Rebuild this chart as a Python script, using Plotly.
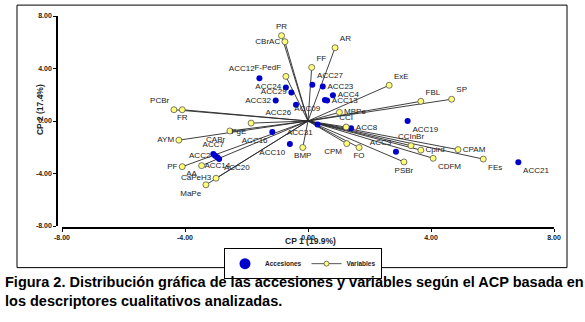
import plotly.graph_objects as go

# ---------------- data ----------------
var_names = ["PR", "CBrAC", "AR", "FF", "F-PedF", "MBPe", "PCBr", "FR", "ExE", "FBL", "SP",
             "CCI", "CCInBr", "Cpird", "CPAM", "CDFM", "FEs", "PSBr", "CPM", "FO", "BMP",
             "PgE", "CABr", "AYM", "PF", "AA", "CaPeH3", "MaPe"]
var_x = [-0.86, -0.75, 0.88, 0.12, -0.72, 1.02, -4.36, -4.09, 2.64, 3.67, 4.67,
         1.24, 3.35, 3.67, 4.88, 4.07, 5.70, 3.12, 1.26, 1.66, -0.17,
         -1.85, -2.54, -4.20, -4.09, -3.46, -2.99, -3.32]
var_y = [6.50, 6.04, 5.58, 4.08, 3.40, 0.66, 0.86, 0.86, 2.72, 1.50, 1.66,
         -0.46, -1.88, -2.22, -2.18, -2.84, -2.90, -3.12, -1.72, -2.02, -2.02,
         -0.16, -0.76, -1.46, -3.48, -3.40, -4.36, -4.86]

acc_names = ["ACC12", "ACC24", "ACC29", "ACC32", "ACC26", "ACC27", "ACC23", "ACC4", "ACC09",
             "ACC13", "ACC19", "ACC8", "ACC31", "ACC3", "ACC21", "ACC10", "ACC16", "ACC7",
             "ACC2", "ACC14", "ACC20"]
acc_x = [-1.58, -0.72, -0.54, -1.05, -0.39, 0.14, 0.48, 0.81, 0.55,
         0.62, 3.24, 1.40, 0.31, 2.86, 6.84, -0.59, -1.16, -3.08,
         -3.02, -2.95, -2.89]
acc_y = [3.26, 2.56, 2.18, 1.56, 1.24, 2.76, 2.62, 1.96, 1.60,
         1.56, 0.00, -0.56, -0.26, -2.34, -3.14, -1.76, -0.84, -2.52,
         -2.64, -2.76, -2.90]

tick_vals = [-8, -4, 0, 4, 8]
tick_text = ["-8.00", "-4.00", "0.00", "4.00", "8.00"]

# label placement (style only)
var_pos = ["top center", "middle left", "top right", "top right", "top left", "middle right",
           "top left", "bottom center", "top right", "top right", "top right",
           "top center", "top center", "middle right", "middle right", "bottom right",
           "bottom right", "bottom center", "bottom left", "bottom center", "bottom center",
           "bottom left", "bottom left", "middle left", "middle left", "bottom left",
           "middle left", "bottom left"]
acc_pos = ["top left", "middle left", "middle left", "middle left", "bottom left", "top right",
           "middle right", "middle right", "bottom left", "middle right", "bottom right",
           "middle right", "bottom left", "top left", "bottom right", "bottom left",
           "bottom left", "top center", "middle left", "bottom center", "bottom right"]

FONT = "Liberation Sans, Arial, sans-serif"

fig = go.Figure()

# vectors from origin
lx, ly = [], []
for vx, vy in zip(var_x, var_y):
    lx += [0, vx, None]
    ly += [0, vy, None]
fig.add_trace(go.Scatter(x=lx, y=ly, mode="lines", line=dict(color="#2a2a2a", width=0.9),
                         showlegend=False, hoverinfo="skip"))

# accessions
fig.add_trace(go.Scatter(x=acc_x, y=acc_y, mode="markers+text", text=acc_names,
                         textposition=acc_pos,
                         textfont=dict(family=FONT, size=8, color="#222222"),
                         marker=dict(color="#0000CC", size=6), showlegend=False))

# variables
fig.add_trace(go.Scatter(x=var_x, y=var_y, mode="markers+text", text=var_names,
                         textposition=var_pos,
                         textfont=dict(family=FONT, size=8, color="#222222"),
                         marker=dict(color="#FFFF77", size=6, line=dict(color="#555555", width=0.8)),
                         showlegend=False))

# legend-only entries
fig.add_trace(go.Scatter(x=[None], y=[None], mode="markers", name="Accesiones",
                         marker=dict(color="#0000CC", size=11)))
fig.add_trace(go.Scatter(x=[None], y=[None], mode="lines+markers", name="Variables",
                         line=dict(color="#555555", width=1),
                         marker=dict(color="#FFFF77", size=5, line=dict(color="#555555", width=0.8))))

W, H = 585, 322
L, R, T, B = 57, 31, 14, 94
pw, ph = W - L - R, H - T - B

def px(xp):
    return (xp - L) / pw

def py(yp):
    return (H - B - yp) / ph

axis_common = dict(range=[-8, 8], tickvals=tick_vals, ticktext=tick_text, showgrid=False,
                   zeroline=False, showline=True, linecolor="black", linewidth=1.5,
                   ticks="outside", ticklen=3, tickwidth=1, tickcolor="black",
                   tickfont=dict(family=FONT, size=7, color="#222222", weight="bold"),
                   anchor="free", position=0)

fig.update_layout(
    width=W, height=H,
    margin=dict(l=L, r=R, t=T, b=B, pad=0),
    paper_bgcolor="white", plot_bgcolor="white",
    xaxis=dict(domain=[px(62), 1], **axis_common),
    yaxis=dict(domain=[py(226), 1], **axis_common),
    showlegend=True,
    legend=dict(orientation="h", x=px(303), xanchor="center", y=py(264), yanchor="middle",
                bordercolor="black", borderwidth=1, bgcolor="white",
                font=dict(family=FONT, size=6.5, color="#222222", weight="bold"),
                itemwidth=30, tracegroupgap=0),
    shapes=[dict(type="rect", xref="paper", yref="paper",
                 x0=px(17), x1=px(567), y0=py(268), y1=py(3),
                 line=dict(color="black", width=1))],
    annotations=[
        dict(text="CP 1 (19.9%)", xref="paper", yref="paper", x=px(310), y=py(248),
             showarrow=False, font=dict(family=FONT, size=8.5, color="#222222", weight="bold")),
        dict(text="CP 2 (17.4%)", xref="paper", yref="paper", x=px(33), y=py(109),
             textangle=-90, showarrow=False,
             font=dict(family=FONT, size=8.5, color="#222222", weight="bold")),
        dict(text="Figura 2. Distribución gráfica de las accesiones y variables según el ACP basada en",
             xref="paper", yref="paper", x=px(3), y=py(283), xanchor="left", yanchor="middle",
             showarrow=False, font=dict(family=FONT, size=14.5, color="black", weight="bold")),
        dict(text="los descriptores cualitativos analizadas.",
             xref="paper", yref="paper", x=px(3), y=py(302), xanchor="left", yanchor="middle",
             showarrow=False, font=dict(family=FONT, size=14.5, color="black", weight="bold")),
    ],
)

fig.write_html("out.html")
